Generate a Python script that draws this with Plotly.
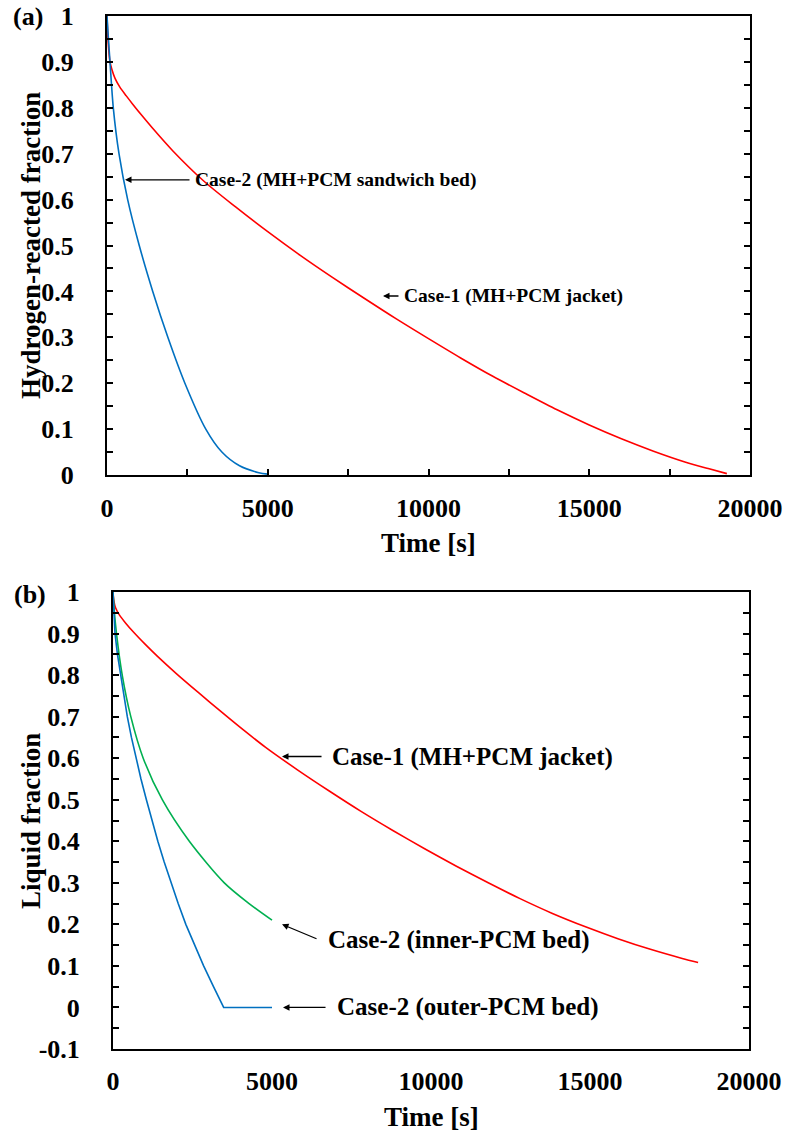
import plotly.graph_objects as go

# ---------------- data ----------------
# Panel (a): hydrogen-reacted fraction vs time
a_case1_t = [0, 30, 93, 150, 250, 400, 600, 800, 1100, 1400, 2050, 3017, 4000, 5000, 6000, 7000,
             8000, 9000, 10000, 11000, 12000, 13000, 14000, 15000, 16000, 17000, 18000, 18700, 19280]
a_case1_y = [1.0, 0.95, 0.9, 0.884, 0.864, 0.845, 0.826, 0.808, 0.782, 0.757, 0.706, 0.64, 0.584,
             0.53, 0.479, 0.431, 0.385, 0.34, 0.297, 0.255, 0.215, 0.178, 0.142, 0.109, 0.079,
             0.052, 0.028, 0.014, 0.003]
a_case2_t = [0, 40, 93, 196, 373, 643, 1003, 1423, 1893, 2423, 3073, 3573, 4123, 4723, 5000]
a_case2_y = [1.0, 0.955, 0.9, 0.8, 0.7, 0.6, 0.5, 0.4, 0.3, 0.2, 0.1, 0.05, 0.02, 0.005, 0.002]

# Panel (b): liquid fraction vs time
b_case1_t = [0, 25, 80, 200, 400, 650, 1000, 1400, 2000, 2700, 3400, 4100, 4800, 5800, 6800,
             7800, 8800, 9800, 10800, 11800, 12800, 13800, 14900, 15900, 16900, 17900, 18400]
b_case1_y = [1.0, 0.98, 0.962, 0.945, 0.925, 0.903, 0.875, 0.845, 0.803, 0.757, 0.712, 0.668,
             0.626, 0.572, 0.521, 0.472, 0.426, 0.382, 0.34, 0.3, 0.262, 0.227, 0.193, 0.165,
             0.14, 0.118, 0.108]
b_inner_t = [0, 40, 110, 290, 560, 950, 1550, 2400, 3500, 4280, 5000]
b_inner_y = [1.0, 0.955, 0.9, 0.8, 0.7, 0.6, 0.5, 0.4, 0.3, 0.25, 0.21]
b_outer_t = [0, 30, 63, 140, 242, 340, 450, 580, 723, 880, 1050, 1225, 1410, 1610, 1820, 2050,
             2290, 2560, 2850, 3160, 3480, 5000]
b_outer_y = [1.0, 0.95, 0.9, 0.85, 0.8, 0.75, 0.7, 0.65, 0.6, 0.55, 0.5, 0.45, 0.4, 0.35, 0.3,
             0.25, 0.2, 0.15, 0.1, 0.05, 0.0, 0.0]

x_tickvals = [0, 5000, 10000, 15000, 20000]
x_ticktext = ["0", "5000", "10000", "15000", "20000"]
ya_tickvals = [0, 0.1, 0.2, 0.3, 0.4, 0.5, 0.6, 0.7, 0.8, 0.9, 1]
ya_ticktext = ["0", "0.1", "0.2", "0.3", "0.4", "0.5", "0.6", "0.7", "0.8", "0.9", "1"]
yb_tickvals = [-0.1, 0, 0.1, 0.2, 0.3, 0.4, 0.5, 0.6, 0.7, 0.8, 0.9, 1]
yb_ticktext = ["-0.1", "0", "0.1", "0.2", "0.3", "0.4", "0.5", "0.6", "0.7", "0.8", "0.9", "1"]

RED = "#FF0000"
BLUE = "#0070C0"
GREEN = "#00B050"
FONT = "Liberation Serif"
TICK_SIZE = 26
TITLE_SIZE = 27
ANN_A_SIZE = 19.5
ANN_B_SIZE = 25

W, H = 786, 1132

fig = go.Figure()
spl = dict(width=1.6, shape="spline", smoothing=0.8)
fig.add_trace(go.Scatter(x=a_case1_t, y=a_case1_y, mode="lines", line=dict(color=RED, **spl), xaxis="x", yaxis="y"))
fig.add_trace(go.Scatter(x=a_case2_t, y=a_case2_y, mode="lines", line=dict(color=BLUE, **spl), xaxis="x", yaxis="y"))
fig.add_trace(go.Scatter(x=b_case1_t, y=b_case1_y, mode="lines", line=dict(color=RED, **spl), xaxis="x2", yaxis="y2"))
fig.add_trace(go.Scatter(x=b_inner_t, y=b_inner_y, mode="lines", line=dict(color=GREEN, **spl), xaxis="x2", yaxis="y2"))
fig.add_trace(go.Scatter(x=b_outer_t, y=b_outer_y, mode="lines", line=dict(color=BLUE, width=1.6), xaxis="x2", yaxis="y2"))


def px_x(p):
    return p / W


def px_y(p):
    return 1 - p / H


tickfont = dict(family=FONT, size=TICK_SIZE, color="black", weight="bold")
common = dict(showgrid=False, zeroline=False, showline=True, linecolor="black", linewidth=2,
              tickcolor="black", tickwidth=2, ticklen=6, automargin=False)
minor_y = dict(ticks="inside", dtick=0.05, tick0=0, ticklen=6, tickwidth=2, tickcolor="black")

dom_xa = [px_x(107), px_x(750)]
dom_ya = [px_y(475), px_y(16)]
dom_xb = [px_x(113), px_x(749)]
dom_yb = [px_y(1049), px_y(592)]

fig.update_layout(
    width=W, height=H, autosize=False,
    margin=dict(l=0, r=0, t=0, b=0, pad=0, autoexpand=False),
    paper_bgcolor="white", plot_bgcolor="white", showlegend=False,
    # panel (a)
    xaxis=dict(domain=dom_xa, anchor="y", range=[0, 20000], tickvals=x_tickvals, ticktext=x_ticktext,
               ticks="inside", mirror=True, tickfont=tickfont, ticklabelstandoff=9,
               minor=dict(ticks="inside", dtick=2500, tick0=0, ticklen=6, tickwidth=2, tickcolor="black"),
               **common),
    yaxis=dict(domain=dom_ya, anchor="x", range=[0, 1], tickvals=ya_tickvals, ticktext=ya_ticktext,
               ticks="inside", mirror="ticks", tickfont=tickfont, ticklabelstandoff=26,
               minor=minor_y, **common),
    xaxis3=dict(overlaying="x", anchor="y", range=[0, 20000], tickvals=x_tickvals, ticks="outside",
                showticklabels=False, **common),
    yaxis3=dict(overlaying="y", anchor="x", range=[0, 1], tickvals=ya_tickvals, ticks="outside",
                mirror="ticks", showticklabels=False, **common),
    # panel (b)
    xaxis2=dict(domain=dom_xb, anchor="y2", range=[0, 20000], tickvals=x_tickvals, ticktext=x_ticktext,
                ticks="", mirror=True, tickfont=tickfont, ticklabelstandoff=8, automargin=False,
                showgrid=False, zeroline=False, showline=True, linecolor="black", linewidth=2),
    yaxis2=dict(domain=dom_yb, anchor="x2", range=[-0.1, 1], tickvals=yb_tickvals, ticktext=yb_ticktext,
                ticks="inside", mirror="ticks", tickfont=tickfont, ticklabelstandoff=26,
                minor=minor_y, **common),
    yaxis4=dict(overlaying="y2", anchor="x2", range=[-0.1, 1], tickvals=yb_tickvals, ticks="outside",
                mirror="ticks", showticklabels=False, **common),
)

titlefont = dict(family=FONT, size=TITLE_SIZE, color="black", weight="bold")
labfont = dict(family=FONT, size=TICK_SIZE, color="black", weight="bold")
annfont_a = dict(family=FONT, size=ANN_A_SIZE, color="black", weight="bold")
annfont_b = dict(family=FONT, size=ANN_B_SIZE, color="black", weight="bold")
arrow = dict(showarrow=True, arrowhead=2, arrowsize=1, arrowwidth=1.3, arrowcolor="black", text="")

anns = []
# panel labels
anns.append(dict(text="(a)", xref="paper", yref="paper", x=px_x(11), y=px_y(17), xanchor="left", yanchor="middle", showarrow=False, font=labfont))
anns.append(dict(text="(b)", xref="paper", yref="paper", x=px_x(12), y=px_y(594), xanchor="left", yanchor="middle", showarrow=False, font=labfont))
# axis titles
anns.append(dict(text="Hydrogen-reacted fraction", xref="paper", yref="paper", x=px_x(31), y=px_y(246), textangle=-90, xanchor="center", yanchor="middle", showarrow=False, font=titlefont))
anns.append(dict(text="Liquid fraction", xref="paper", yref="paper", x=px_x(31), y=px_y(821), textangle=-90, xanchor="center", yanchor="middle", showarrow=False, font=titlefont))
anns.append(dict(text="Time [s]", xref="paper", yref="paper", x=px_x(428), y=px_y(543), xanchor="center", yanchor="middle", showarrow=False, font=titlefont))
anns.append(dict(text="Time [s]", xref="paper", yref="paper", x=px_x(431), y=px_y(1117), xanchor="center", yanchor="middle", showarrow=False, font=titlefont))

# curve labels and arrows (panel a)
anns.append(dict(text="Case-2 (MH+PCM sandwich bed)", xref="x", yref="y", x=2675, y=0.643, xanchor="left", yanchor="middle", showarrow=False, font=annfont_a))
anns.append(dict(xref="x", yref="y", x=560, y=0.643, ax=66, ay=0, **arrow))
anns.append(dict(text="Case-1 (MH+PCM jacket)", xref="x", yref="y", x=9175, y=0.39, xanchor="left", yanchor="middle", showarrow=False, font=annfont_a))
anns.append(dict(xref="x", yref="y", x=8584, y=0.39, ax=17, ay=0, **arrow))
# panel b
anns.append(dict(text="Case-1 (MH+PCM jacket)", xref="x2", yref="y2", x=6825, y=0.604, xanchor="left", yanchor="middle", showarrow=False, font=annfont_b))
anns.append(dict(xref="x2", yref="y2", x=5315, y=0.604, ax=41, ay=0, **arrow))
anns.append(dict(text="Case-2 (inner-PCM bed)", xref="x2", yref="y2", x=6699, y=0.162, xanchor="left", yanchor="middle", showarrow=False, font=annfont_b))
anns.append(dict(xref="x2", yref="y2", x=5315, y=0.20, ax=36, ay=15, **arrow))
anns.append(dict(text="Case-2 (outer-PCM bed)", xref="x2", yref="y2", x=6982, y=0.0, xanchor="left", yanchor="middle", showarrow=False, font=annfont_b))
anns.append(dict(xref="x2", yref="y2", x=5347, y=0.0, ax=44, ay=0, **arrow))

fig.update_layout(annotations=anns)
fig.write_html("out.html")
